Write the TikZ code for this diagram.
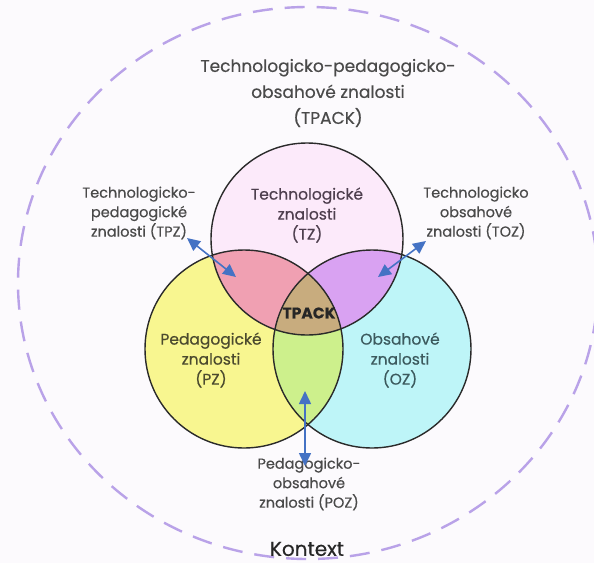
\documentclass[tikz,border=0pt]{standalone}
\usepackage{fontspec}
\setmainfont{Poppins}[FakeBold=0.4]
\usetikzlibrary{arrows.meta}
\definecolor{bgc}{HTML}{FCFAFD}
\definecolor{ctx}{HTML}{B9A2E8}
\definecolor{tzc}{HTML}{FCEAFA}
\definecolor{pzc}{HTML}{F8F690}
\definecolor{ozc}{HTML}{BEF5F8}
\definecolor{tpzc}{HTML}{F0A0B2}
\definecolor{tozc}{HTML}{D9A2F2}
\definecolor{pozc}{HTML}{CDF08C}
\definecolor{tpackc}{HTML}{C8AC7E}
\definecolor{arr}{HTML}{4472C4}
\definecolor{txt}{HTML}{4A4A4A}
\definecolor{edge}{HTML}{2A2A2A}
\definecolor{tztxt}{HTML}{4E3F4E}
\definecolor{pztxt}{HTML}{4B4A2E}
\definecolor{oztxt}{HTML}{3C5A5E}
\tikzset{
  lbl/.style={align=center, text=txt, inner sep=0pt, font=\fontsize{14.5}{19.5}\selectfont},
  inlbl/.style={align=center, inner sep=0pt, font=\fontsize{15.5}{20}\selectfont},
  ring/.style={draw=edge, line width=1.4pt},
  dblarrow/.style={draw=arr, line width=1.6pt, {Triangle[length=13pt,width=12pt]}-{Triangle[length=13pt,width=12pt]}}
}
\begin{document}
\begin{tikzpicture}[x=1pt,y=-1pt]
\useasboundingbox (0,0) rectangle (594,563);
\fill[bgc] (0,0) rectangle (594,563);
\coordinate (c0) at (308,283);
\coordinate (cT) at (307,239);
\coordinate (cL) at (244,349);
\coordinate (cR) at (372,349);
% context
\draw[ctx, line width=2.4pt, dash pattern=on 20pt off 12pt] (c0) ellipse [x radius=290pt, y radius=276pt];
% fills
\fill[pzc] (cL) circle [radius=99pt];
\fill[ozc] (cR) circle [radius=99pt];
\fill[tzc] (cT) circle [radius=96pt];
\begin{scope}
  \clip (cT) circle [radius=96pt];
  \fill[tpzc] (cL) circle [radius=99pt];
  \fill[tozc] (cR) circle [radius=99pt];
\end{scope}
\begin{scope}
  \clip (cL) circle [radius=99pt];
  \fill[pozc] (cR) circle [radius=99pt];
\end{scope}
\begin{scope}
  \clip (cT) circle [radius=96pt];
  \clip (cL) circle [radius=99pt];
  \fill[tpackc] (cR) circle [radius=99pt];
\end{scope}
\draw[ring] (cL) circle [radius=99pt];
\draw[ring] (cR) circle [radius=99pt];
\draw[ring] (cT) circle [radius=96pt];
% texts
\node[lbl, font=\fontsize{17}{26}\selectfont] (title) at (328,93) {Technologicko-pedagogicko-\\obsahové znalosti\\(TPACK)};
\node[inlbl, text=tztxt] (tz) at (307,215) {Technologické\\znalosti\\(TZ)};
\node[inlbl, text=pztxt] (pz) at (211,360) {Pedagogické\\znalosti\\(PZ)};
\node[inlbl, text=oztxt] (oz) at (400,360) {Obsahové\\znalosti\\(OZ)};
\node[inner sep=0pt, font=\fontsize{15.5}{16}\selectfont\bfseries, text=black!85] (tpack) at (309,313) {TPACK};
\node[lbl] (tpz) at (139,213) {Technologicko-\\pedagogické\\znalosti (TPZ)};
\node[lbl] (toz) at (476,213) {Technologicko\\obsahové\\znalosti (TOZ)};
\node[lbl] (poz) at (309,484) {Pedagogicko-\\obsahové\\znalosti (POZ)};
\node[inner sep=0pt, font=\fontsize{20}{22}\selectfont, text=black!85] (ctxl) at (307,549) {Kontext};
% arrows
\coordinate (a1) at (187,238);
\coordinate (a2) at (236,277);
\coordinate (b1) at (426,241);
\coordinate (b2) at (378,277);
\coordinate (p1) at (305,391);
\coordinate (p2) at (305,466);
\draw[dblarrow] (a1) -- (a2);
\draw[dblarrow] (b1) -- (b2);
\draw[dblarrow] (p1) -- (p2);
\end{tikzpicture}
\end{document}
